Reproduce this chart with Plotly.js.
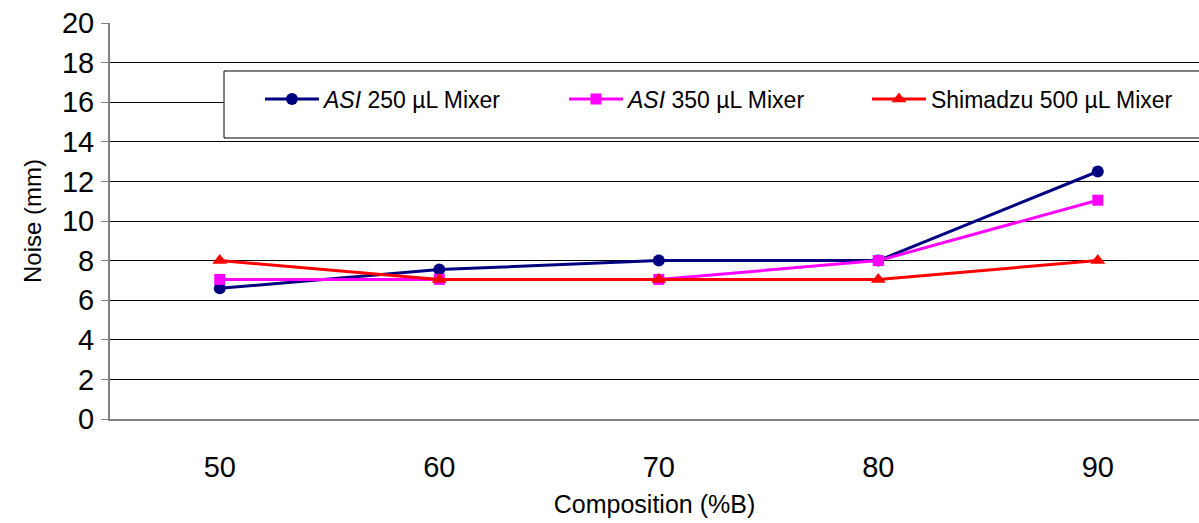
<!DOCTYPE html>
<html>
<head>
<meta charset="utf-8">
<script src="https://cdn.plot.ly/plotly-3.0.1.min.js"></script>
<style>html,body{margin:0;padding:0;background:#fff;}#chart{width:1199px;height:523px;}</style>
</head>
<body>
<div id="chart"></div>
<script>
const categories = ["50", "60", "70", "80", "90"];
const asi250 = [6.6, 7.55, 8.0, 8.0, 12.5];
const asi350 = [7.05, 7.05, 7.05, 8.0, 11.05];
const shimadzu500 = [8.0, 7.05, 7.05, 7.05, 8.0];
const seriesNames = ["<i>ASI</i> 250 µL Mixer", "<i>ASI</i> 350 µL Mixer", "Shimadzu 500 µL Mixer"];
const yTicks = [0, 2, 4, 6, 8, 10, 12, 14, 16, 18, 20];

const xIdx = categories.map((c, i) => i);

const traces = [
  {x: xIdx, y: asi250, name: seriesNames[0], type: "scatter", mode: "lines+markers", legend: "legend",
   line: {color: "#000080", width: 3}, marker: {symbol: "circle", size: 12, color: "#000080"}},
  {x: xIdx, y: asi350, name: seriesNames[1], type: "scatter", mode: "lines+markers", legend: "legend2",
   line: {color: "#FF00FF", width: 3}, marker: {symbol: "square", size: 11, color: "#FF00FF"}},
  {x: xIdx, y: shimadzu500, name: seriesNames[2], type: "scatter", mode: "lines+markers", legend: "legend3",
   line: {color: "#FF0000", width: 3}, marker: {symbol: "triangle-up", size: 13, color: "#FF0000"}}
];

function legendAt(xp) {
  return {
    orientation: "h", x: xp, xanchor: "left", y: 0.808, yanchor: "middle",
    bgcolor: "rgba(0,0,0,0)", borderwidth: 0,
    font: {size: 23, color: "#000"}, itemwidth: 54
  };
}

const layout = {
  width: 1199, height: 523,
  margin: {l: 110, r: 0, t: 23, b: 104},
  paper_bgcolor: "#fff", plot_bgcolor: "#fff",
  font: {family: "Liberation Sans, Arial, sans-serif", color: "#000"},
  showlegend: true,
  legend: legendAt(0.1377),
  legend2: legendAt(0.4169),
  legend3: legendAt(0.6951),
  xaxis: {
    tickmode: "array", tickvals: xIdx, ticktext: categories,
    range: [-0.5, 4.461], showgrid: false, zeroline: false,
    showline: true, linecolor: "#808080", linewidth: 2,
    ticks: "", tickfont: {size: 29}, ticklabelstandoff: 21,
    title: {text: "Composition (%B)", font: {size: 25}, standoff: 14}
  },
  yaxis: {
    range: [0, 20], tickmode: "array", tickvals: yTicks,
    showgrid: true, gridcolor: "#000", gridwidth: 1, zeroline: false,
    showline: true, linecolor: "#808080", linewidth: 2,
    ticks: "outside", ticklen: 7, tickcolor: "#808080", tickwidth: 1,
    tickfont: {size: 29}, ticklabelstandoff: 1,
    title: {text: "Noise (mm)", font: {size: 24}, standoff: 14}
  },
  shapes: [{
    type: "rect", xref: "paper", yref: "paper",
    x0: 0.1047, x1: 1.05, y0: 0.7096, y1: 0.8788,
    fillcolor: "#fff", line: {color: "#000", width: 1}, layer: "above"
  }]
};

Plotly.newPlot("chart", traces, layout, {displayModeBar: false, staticPlot: true});
</script>
</body>
</html>
